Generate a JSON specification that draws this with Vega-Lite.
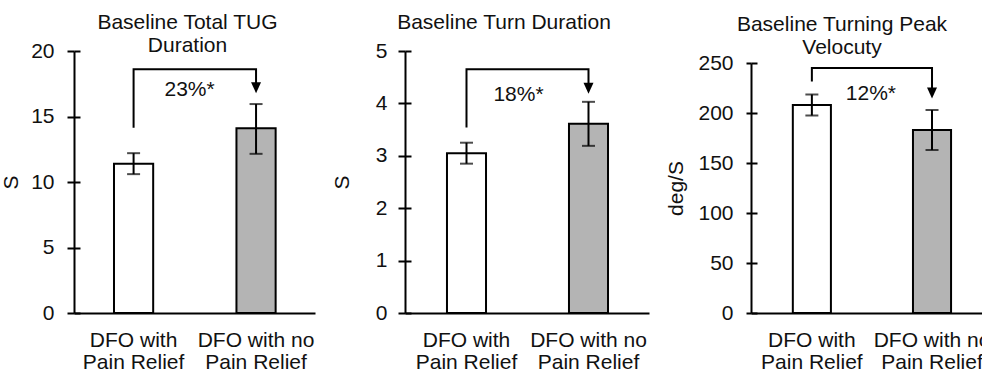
{
  "$schema": "https://vega.github.io/schema/vega-lite/v6.json",
  "background": "white",
  "padding": {"left": 0, "top": 12, "right": -6, "bottom": -1},
  "spacing": 16,
  "config": {
    "view": {"stroke": null},
    "font": "Liberation Sans",
    "axis": {"labelFont": "Liberation Sans", "titleFont": "Liberation Sans", "labelColor": "#111", "titleColor": "#111", "labelFontSize": 21, "titleFontSize": 21, "titleFontWeight": "normal", "domainColor": "#000", "domainWidth": 2, "tickColor": "#000", "tickWidth": 2, "grid": false},
    "title": {"font": "Liberation Sans", "fontSize": 21, "fontWeight": "normal", "color": "#111", "lineHeight": 23, "anchor": "middle", "frame": "group"}
  },
  "datasets": {
    "bars1": [
      {"group": "DFO with Pain Relief", "mean": 11.4, "lo": 10.6, "hi": 12.2},
      {"group": "DFO with no Pain Relief", "mean": 14.1, "lo": 12.15, "hi": 15.95}
    ],
    "br1": [
      {"group": "DFO with Pain Relief", "v": 14.15, "i": 0},
      {"group": "DFO with Pain Relief", "v": 18.6, "i": 1},
      {"group": "DFO with no Pain Relief", "v": 18.6, "i": 2},
      {"group": "DFO with no Pain Relief", "v": 17.4, "i": 3}
    ],
    "ar1": [{"group": "DFO with no Pain Relief", "v": 17.2}],
    "lb1": [{"group": "DFO with Pain Relief", "v": 17.05, "t": "23%*"}],
    "bars2": [
      {"group": "DFO with Pain Relief", "mean": 3.05, "lo": 2.85, "hi": 3.25},
      {"group": "DFO with no Pain Relief", "mean": 3.61, "lo": 3.19, "hi": 4.03}
    ],
    "br2": [
      {"group": "DFO with Pain Relief", "v": 3.54, "i": 0},
      {"group": "DFO with Pain Relief", "v": 4.65, "i": 1},
      {"group": "DFO with no Pain Relief", "v": 4.65, "i": 2},
      {"group": "DFO with no Pain Relief", "v": 4.35, "i": 3}
    ],
    "ar2": [{"group": "DFO with no Pain Relief", "v": 4.29}],
    "lb2": [{"group": "DFO with Pain Relief", "v": 4.16, "t": "18%*"}],
    "bars3": [
      {"group": "DFO with Pain Relief", "mean": 208, "lo": 197.5, "hi": 218.5},
      {"group": "DFO with no Pain Relief", "mean": 183, "lo": 163, "hi": 203}
    ],
    "br3": [
      {"group": "DFO with Pain Relief", "v": 231.5, "i": 0},
      {"group": "DFO with Pain Relief", "v": 245, "i": 1},
      {"group": "DFO with no Pain Relief", "v": 245, "i": 2},
      {"group": "DFO with no Pain Relief", "v": 222, "i": 3}
    ],
    "ar3": [{"group": "DFO with no Pain Relief", "v": 220}],
    "lb3": [{"group": "DFO with Pain Relief", "v": 219.3, "t": "12%*"}]
  },
  "hconcat": [
    {
      "width": 241,
      "height": 262,
      "title": {"text": ["Baseline Total TUG", "Duration"], "dx": -7, "offset": -16},
      "resolve": {"axis": {"y": "independent"}},
      "encoding": {
        "x": {"field": "group", "type": "nominal", "sort": ["DFO with Pain Relief", "DFO with no Pain Relief"],
              "scale": {"paddingInner": 0.68, "paddingOuter": 0.324, "align": 0.504},
              "axis": {"title": null, "labelAngle": 0, "ticks": false, "labelPadding": 16, "labelLineHeight": 22, "labelLimit": 200,
                       "labelExpr": "datum.label == 'DFO with Pain Relief' ? ['DFO with', 'Pain Relief'] : ['DFO with no', 'Pain Relief']"}}
      },
      "layer": [
        {"data": {"name": "bars1"}, "mark": {"type": "bar", "stroke": "#000", "strokeWidth": 2},
         "encoding": {"y": {"field": "mean", "type": "quantitative", "scale": {"domain": [0, 20], "nice": false},
                            "axis": {"title": "S", "values": [0, 5, 10, 15, 20], "tickSize": 7, "labelPadding": 13, "titlePadding": 9}},
                      "fill": {"field": "group", "type": "nominal", "scale": {"domain": ["DFO with Pain Relief", "DFO with no Pain Relief"], "range": ["#ffffff", "#b4b4b4"]}, "legend": null}}},
        {"data": {"name": "bars1"}, "mark": {"type": "rule", "strokeWidth": 2, "color": "#000"},
         "encoding": {"y": {"field": "lo", "type": "quantitative", "axis": {"orient": "left", "title": null, "labels": false, "domain": false, "tickSize": -6, "values": [0, 5, 10, 15, 20]}}, "y2": {"field": "hi"}}},
        {"data": {"name": "bars1"}, "mark": {"type": "tick", "size": 13, "thickness": 2, "color": "#000"},
         "encoding": {"y": {"field": "lo", "type": "quantitative", "axis": null}}},
        {"data": {"name": "bars1"}, "mark": {"type": "tick", "size": 13, "thickness": 2, "color": "#000"},
         "encoding": {"y": {"field": "hi", "type": "quantitative", "axis": null}}},
        {"data": {"name": "br1"}, "mark": {"type": "line", "strokeWidth": 2, "color": "#000"},
         "encoding": {"y": {"field": "v", "type": "quantitative", "axis": null}, "order": {"field": "i"}}},
        {"data": {"name": "ar1"}, "mark": {"type": "point", "shape": "M-1,-1.1L1,-1.1L0,1.1Z", "size": 100, "filled": true, "color": "#000", "opacity": 1},
         "encoding": {"y": {"field": "v", "type": "quantitative", "axis": null}}},
        {"data": {"name": "lb1"}, "mark": {"type": "text", "fontSize": 21, "color": "#111", "dx": 56, "align": "center", "baseline": "middle"},
         "encoding": {"y": {"field": "v", "type": "quantitative", "axis": null}, "text": {"field": "t"}}}
      ]
    },
    {
      "width": 244,
      "height": 262,
      "title": {"text": "Baseline Turn Duration", "dx": -23, "offset": 7},
      "resolve": {"axis": {"y": "independent"}},
      "encoding": {
        "x": {"field": "group", "type": "nominal", "sort": ["DFO with Pain Relief", "DFO with no Pain Relief"],
              "scale": {"paddingInner": 0.68, "paddingOuter": 0.34, "align": 0.506},
              "axis": {"title": null, "labelAngle": 0, "ticks": false, "labelPadding": 16, "labelLineHeight": 22, "labelLimit": 200,
                       "labelExpr": "datum.label == 'DFO with Pain Relief' ? ['DFO with', 'Pain Relief'] : ['DFO with no', 'Pain Relief']"}}
      },
      "layer": [
        {"data": {"name": "bars2"}, "mark": {"type": "bar", "stroke": "#000", "strokeWidth": 2},
         "encoding": {"y": {"field": "mean", "type": "quantitative", "scale": {"domain": [0, 5], "nice": false},
                            "axis": {"title": "S", "values": [0, 1, 2, 3, 4, 5], "tickSize": 7, "labelPadding": 11, "titlePadding": 23}},
                      "fill": {"field": "group", "type": "nominal", "scale": {"domain": ["DFO with Pain Relief", "DFO with no Pain Relief"], "range": ["#ffffff", "#b4b4b4"]}, "legend": null}}},
        {"data": {"name": "bars2"}, "mark": {"type": "rule", "strokeWidth": 2, "color": "#000"},
         "encoding": {"y": {"field": "lo", "type": "quantitative", "axis": {"orient": "left", "title": null, "labels": false, "domain": false, "tickSize": -6, "values": [0, 1, 2, 3, 4, 5]}}, "y2": {"field": "hi"}}},
        {"data": {"name": "bars2"}, "mark": {"type": "tick", "size": 13, "thickness": 2, "color": "#000"},
         "encoding": {"y": {"field": "lo", "type": "quantitative", "axis": null}}},
        {"data": {"name": "bars2"}, "mark": {"type": "tick", "size": 13, "thickness": 2, "color": "#000"},
         "encoding": {"y": {"field": "hi", "type": "quantitative", "axis": null}}},
        {"data": {"name": "br2"}, "mark": {"type": "line", "strokeWidth": 2, "color": "#000"},
         "encoding": {"y": {"field": "v", "type": "quantitative", "axis": null}, "order": {"field": "i"}}},
        {"data": {"name": "ar2"}, "mark": {"type": "point", "shape": "M-1,-1.1L1,-1.1L0,1.1Z", "size": 100, "filled": true, "color": "#000", "opacity": 1},
         "encoding": {"y": {"field": "v", "type": "quantitative", "axis": null}}},
        {"data": {"name": "lb2"}, "mark": {"type": "text", "fontSize": 21, "color": "#111", "dx": 52, "align": "center", "baseline": "middle"},
         "encoding": {"y": {"field": "v", "type": "quantitative", "axis": null}, "text": {"field": "t"}}}
      ]
    },
    {
      "width": 232,
      "height": 262,
      "title": {"text": ["Baseline Turning Peak", "Velocuty"], "dx": -25, "offset": -7},
      "resolve": {"axis": {"y": "independent"}},
      "encoding": {
        "x": {"field": "group", "type": "nominal", "sort": ["DFO with Pain Relief", "DFO with no Pain Relief"],
              "scale": {"paddingInner": 0.683, "paddingOuter": 0.307, "align": 0.567},
              "axis": {"title": null, "labelAngle": 0, "ticks": false, "labelPadding": 16, "labelLineHeight": 22, "labelLimit": 200,
                       "labelExpr": "datum.label == 'DFO with Pain Relief' ? ['DFO with', 'Pain Relief'] : ['DFO with no', 'Pain Relief']"}}
      },
      "layer": [
        {"data": {"name": "bars3"}, "mark": {"type": "bar", "stroke": "#000", "strokeWidth": 2},
         "encoding": {"y": {"field": "mean", "type": "quantitative", "scale": {"domain": [0, 250], "nice": false, "range": [262, 12]},
                            "axis": {"title": "deg/S", "values": [0, 50, 100, 150, 200, 250], "tickSize": 5, "labelPadding": 13, "titlePadding": 11}},
                      "fill": {"field": "group", "type": "nominal", "scale": {"domain": ["DFO with Pain Relief", "DFO with no Pain Relief"], "range": ["#ffffff", "#b4b4b4"]}, "legend": null}}},
        {"data": {"name": "bars3"}, "mark": {"type": "rule", "strokeWidth": 2, "color": "#000"},
         "encoding": {"y": {"field": "lo", "type": "quantitative", "axis": {"orient": "left", "title": null, "labels": false, "domain": false, "tickSize": -6, "values": [0, 50, 100, 150, 200, 250]}}, "y2": {"field": "hi"}}},
        {"data": {"name": "bars3"}, "mark": {"type": "tick", "size": 13, "thickness": 2, "color": "#000"},
         "encoding": {"y": {"field": "lo", "type": "quantitative", "axis": null}}},
        {"data": {"name": "bars3"}, "mark": {"type": "tick", "size": 13, "thickness": 2, "color": "#000"},
         "encoding": {"y": {"field": "hi", "type": "quantitative", "axis": null}}},
        {"data": {"name": "br3"}, "mark": {"type": "line", "strokeWidth": 2, "color": "#000"},
         "encoding": {"y": {"field": "v", "type": "quantitative", "axis": null}, "order": {"field": "i"}}},
        {"data": {"name": "ar3"}, "mark": {"type": "point", "shape": "M-1,-1.1L1,-1.1L0,1.1Z", "size": 100, "filled": true, "color": "#000", "opacity": 1},
         "encoding": {"y": {"field": "v", "type": "quantitative", "axis": null}}},
        {"data": {"name": "lb3"}, "mark": {"type": "text", "fontSize": 21, "color": "#111", "dx": 59, "align": "center", "baseline": "middle"},
         "encoding": {"y": {"field": "v", "type": "quantitative", "axis": null}, "text": {"field": "t"}}}
      ]
    }
  ]
}
